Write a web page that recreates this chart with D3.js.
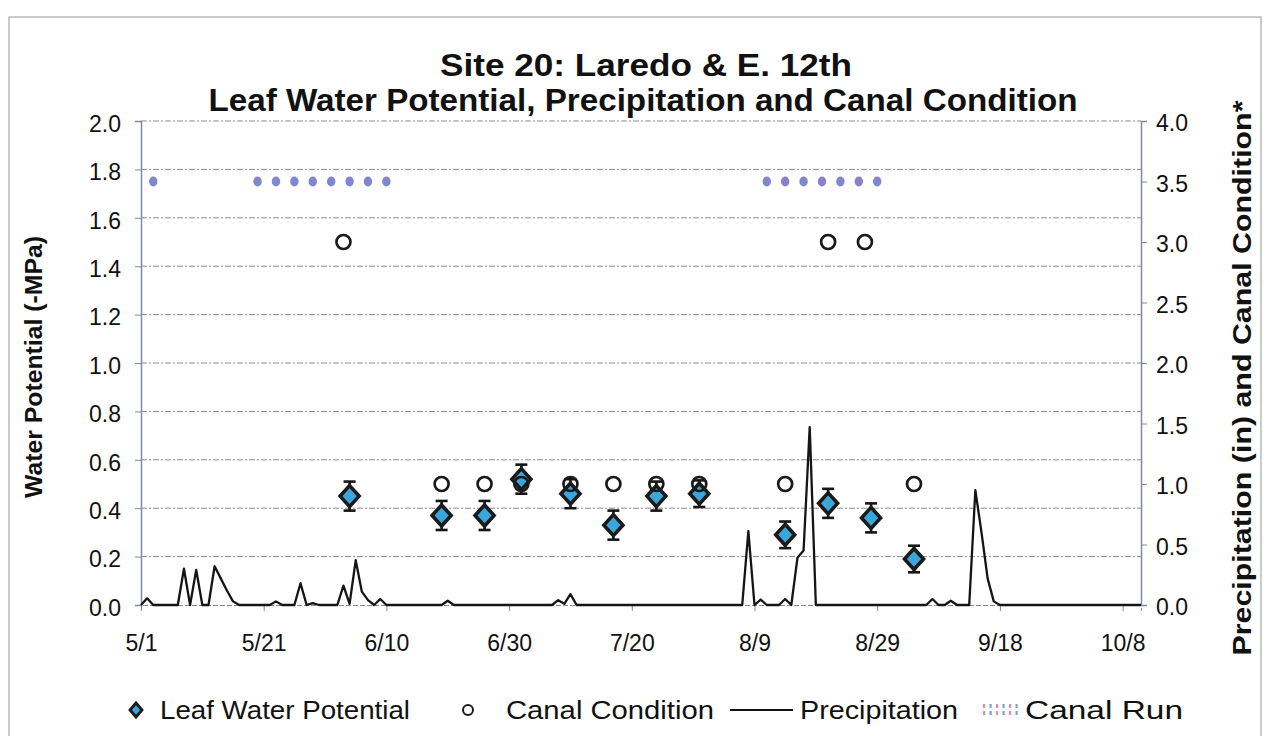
<!DOCTYPE html>
<html><head><meta charset="utf-8">
<script src="https://cdn.jsdelivr.net/npm/d3@7"></script>
<style>
body{margin:0;background:#fff}
svg{display:block}
text{font-family:"Liberation Sans",Arial,Helvetica,sans-serif;fill:#111}
</style>
</head><body>
<svg id="chart" width="1267" height="736"></svg>
<script>
// ---------------- DATA ----------------
const titleLines = ["Site 20: Laredo & E. 12th", "Leaf Water Potential, Precipitation and Canal Condition"];
const leftAxisTitle = "Water Potential (-MPa)";
const rightAxisTitle = "Precipitation (in) and Canal Condition*";
const xTickLabels = ["5/1","5/21","6/10","6/30","7/20","8/9","8/29","9/18","10/8"];
const xDomainLabels = ["5/1","10/11"];
const leftTicks = [0.0,0.2,0.4,0.6,0.8,1.0,1.2,1.4,1.6,1.8,2.0];
const rightTicks = [0.0,0.5,1.0,1.5,2.0,2.5,3.0,3.5,4.0];

// Leaf water potential (-MPa), left axis, with error bars
const lwpDates  = ["6/4","6/19","6/26","7/2","7/10","7/17","7/24","7/31","8/14","8/21","8/28","9/4"];
const lwpValues = [0.45, 0.37, 0.37, 0.52, 0.46, 0.33, 0.45, 0.46, 0.29, 0.42, 0.36, 0.19];
const lwpErrors = [0.06, 0.06, 0.06, 0.06, 0.06, 0.06, 0.06, 0.055,0.055,0.06, 0.06, 0.055];

// Canal condition, right axis
const canalCondDates  = ["6/3","6/19","6/26","7/2","7/10","7/17","7/24","7/31","8/14","8/21","8/27","9/4"];
const canalCondValues = [3.0, 1.0, 1.0, 1.0, 1.0, 1.0, 1.0, 1.0, 1.0, 3.0, 3.0, 1.0];

// Canal run, right axis
const canalRunDates  = ["5/3","5/20","5/23","5/26","5/29","6/1","6/4","6/7","6/10",
                        "8/11","8/14","8/17","8/20","8/23","8/26","8/29"];
const canalRunValues = [3.5,3.5,3.5,3.5,3.5,3.5,3.5,3.5,3.5,3.5,3.5,3.5,3.5,3.5,3.5,3.5];

// Daily precipitation (in), right axis, from 5/1 to 10/11
const precipStart = "5/1";
const precipValues = [
  0,0.055,0,0,0,0,0,0.30,0,0.29,
  0,0,0.32,0.22,0.12,0.03,0,0,0,0,
  0,0,0.03,0,0,0,0.18,0,0.015,0,
  0,0,0,0.16,0.01,0.37,0.11,0.04,0,0.05,
  0,0,0,0,0,0,0,0,0,0,
  0.035,0,0,0,0,0,0,0,0,0,
  0,0,0,0,0,0,0,0,0.04,0.01,
  0.09,0,0,0,0,0,0,0,0,0,
  0,0,0,0,0,0,0,0,0,0,
  0,0,0,0,0,0,0,0,0,0.61,
  0,0.045,0,0,0,0.05,0,0.39,0.45,1.47,
  0,0,0,0,0,0,0,0,0,0,
  0,0,0,0,0,0,0,0,0,0.05,
  0,0,0.035,0,0,0,0.95,0.6,0.22,0.03,
  0,0,0,0,0,0,0,0,0,0,
  0,0,0,0,0,0,0,0,0,0,
  0,0,0,0
];
const legendLabels = ["Leaf Water Potential","Canal Condition","Precipitation","Canal Run"];

// ---------------- HELPERS ----------------
const YEAR = 2009;
const md = s => { const [m,d] = s.split("/").map(Number); return new Date(Date.UTC(YEAR, m-1, d)); };

const svg = d3.select("#chart");
const plot = {left:141, right:1141, top:121, bottom:605};

const x = d3.scaleUtc().domain(xDomainLabels.map(md)).range([plot.left, plot.right]);
const yL = d3.scaleLinear().domain([0, 2]).range([plot.bottom, plot.top]);
const yR = d3.scaleLinear().domain([0, 4]).range([plot.bottom, plot.top]);

// outer frame
svg.append("rect").attr("x",9).attr("y",17).attr("width",1252).attr("height",740)
  .attr("fill","none").attr("stroke","#a8a8a8").attr("stroke-width",1.2);

// gridlines
svg.append("g").selectAll("line").data(leftTicks.filter(d=>d>0)).join("line")
  .attr("x1",plot.left).attr("x2",plot.right)
  .attr("y1",d=>yL(d)).attr("y2",d=>yL(d))
  .attr("stroke","#8c8c8c").attr("stroke-width",1).attr("stroke-dasharray","6,2,2,2");

// left axis
const gL = svg.append("g").attr("transform",`translate(${plot.left},0)`)
  .call(d3.axisLeft(yL).tickValues(leftTicks).tickFormat(d3.format(".1f")).tickSize(6).tickPadding(14));
gL.select(".domain").attr("stroke","#7f89a3").attr("stroke-width",1.5);
gL.selectAll(".tick line").attr("stroke","#888");
gL.selectAll(".tick text").attr("font-size",23).attr("dy","0.45em").attr("fill","#111");

// right axis
const gR = svg.append("g").attr("transform",`translate(${plot.right},0)`)
  .call(d3.axisRight(yR).tickValues(rightTicks).tickFormat(d3.format(".1f")).tickSize(6).tickPadding(9));
gR.select(".domain").attr("stroke","#7f89a3").attr("stroke-width",1.5);
gR.selectAll(".tick line").attr("stroke","#888");
gR.selectAll(".tick text").attr("font-size",23).attr("dy","0.42em").attr("fill","#111");

// bottom axis
const gX = svg.append("g").attr("transform",`translate(0,${plot.bottom})`)
  .call(d3.axisBottom(x).tickValues(xTickLabels.map(md)).tickFormat((d,i)=>xTickLabels[i]).tickSize(6).tickPadding(24));
gX.select(".domain").attr("stroke","#8a8a8a").attr("stroke-width",1).attr("stroke-dasharray","5,2");
gX.selectAll(".tick line").attr("stroke","#888");
gX.selectAll(".tick text").attr("font-size",23).attr("fill","#111");
svg.selectAll(".tick text").attr("font-family",'"Liberation Sans",Arial,sans-serif');

// precipitation line
const start = md(precipStart);
const precip = precipValues.map((v,i)=>({date:d3.utcDay.offset(start,i), v}));
svg.append("path").datum(precip)
  .attr("fill","none").attr("stroke","#151515").attr("stroke-width",2.3).attr("stroke-linejoin","round")
  .attr("d", d3.line().x(d=>x(d.date)).y(d=>yR(d.v)));

// LWP error bars + diamonds
const lwp = lwpDates.map((d,i)=>({date:md(d), v:lwpValues[i], e:lwpErrors[i]}));
const eb = svg.append("g").attr("stroke","#151515").attr("stroke-width",2.6);
lwp.forEach(p=>{
  const cx = x(p.date), y1 = yL(p.v+p.e), y2 = yL(p.v-p.e);
  eb.append("line").attr("x1",cx).attr("x2",cx).attr("y1",y1).attr("y2",y2);
  eb.append("line").attr("x1",cx-6).attr("x2",cx+6).attr("y1",y1).attr("y2",y1);
  eb.append("line").attr("x1",cx-6).attr("x2",cx+6).attr("y1",y2).attr("y2",y2);
});
const diamond = "M0,-10.5L9.5,0L0,10.5L-9.5,0Z";
svg.append("g").selectAll("path").data(lwp).join("path")
  .attr("d",diamond).attr("transform",d=>`translate(${x(d.date)},${yL(d.v)})`)
  .attr("fill","#3aa6da").attr("stroke","#1a1a1a").attr("stroke-width",3.6).attr("stroke-linejoin","miter");

// canal condition circles
const cc = canalCondDates.map((d,i)=>({date:md(d), v:canalCondValues[i]}));
svg.append("g").selectAll("circle").data(cc).join("circle")
  .attr("cx",d=>x(d.date)).attr("cy",d=>yR(d.v)).attr("r",7)
  .attr("fill","none").attr("stroke","#1a1a1a").attr("stroke-width",2.7);

// canal run dots
const cr = canalRunDates.map((d,i)=>({date:md(d), v:canalRunValues[i]}));
svg.append("g").selectAll("ellipse").data(cr).join("ellipse")
  .attr("cx",d=>x(d.date)).attr("cy",d=>yR(d.v)).attr("rx",4.2).attr("ry",5)
  .attr("fill",(d,i)=> i>=9 && i%2===0 ? "#8d80c8" : "#7f88cc");

// titles
svg.append("text").attr("x",646).attr("y",76).attr("text-anchor","middle")
  .attr("font-size",31).attr("font-weight","bold")
  .attr("textLength",412).attr("lengthAdjust","spacingAndGlyphs").text(titleLines[0]);
svg.append("text").attr("x",643).attr("y",111).attr("text-anchor","middle")
  .attr("font-size",31).attr("font-weight","bold")
  .attr("textLength",869).attr("lengthAdjust","spacingAndGlyphs").text(titleLines[1]);

// axis titles
svg.append("text").attr("transform","translate(42,367) rotate(-90)").attr("text-anchor","middle")
  .attr("font-size",24).attr("font-weight","bold")
  .attr("textLength",262).attr("lengthAdjust","spacingAndGlyphs").text(leftAxisTitle);
svg.append("text").attr("transform","translate(1251,378) rotate(-90)").attr("text-anchor","middle")
  .attr("font-size",26).attr("font-weight","bold")
  .attr("textLength",555).attr("lengthAdjust","spacingAndGlyphs").text(rightAxisTitle);

// legend
const ly = 710;
const lg = svg.append("g");
lg.append("path").attr("d","M0,-7L6,0L0,7L-6,0Z").attr("transform",`translate(136,${ly})`)
  .attr("fill","#3aa6da").attr("stroke","#1a1a1a").attr("stroke-width",2.8);
lg.append("circle").attr("cx",468).attr("cy",ly).attr("r",5).attr("fill","none")
  .attr("stroke","#1a1a1a").attr("stroke-width",2);
lg.append("line").attr("x1",730).attr("x2",793).attr("y1",ly).attr("y2",ly)
  .attr("stroke","#151515").attr("stroke-width",2);
const runCols = ["#e887b0","#7d9ee0","#e887b0","#7d9ee0","#e887b0","#7d9ee0"];
runCols.forEach((c,i)=>{
  lg.append("rect").attr("x",983+i*6.5).attr("y",ly-6).attr("width",2.2).attr("height",4).attr("fill",c);
  lg.append("rect").attr("x",983+i*6.5).attr("y",ly+1).attr("width",2.2).attr("height",4).attr("fill",c);
});
const legendText = [
  {x:160, w:250}, {x:506, w:208}, {x:800, w:158}, {x:1025, w:158}
];
legendLabels.forEach((t,i)=>{
  lg.append("text").attr("x",legendText[i].x).attr("y",ly+9).attr("font-size",26)
    .attr("textLength",legendText[i].w).attr("lengthAdjust","spacingAndGlyphs").text(t);
});
</script>
</body></html>
